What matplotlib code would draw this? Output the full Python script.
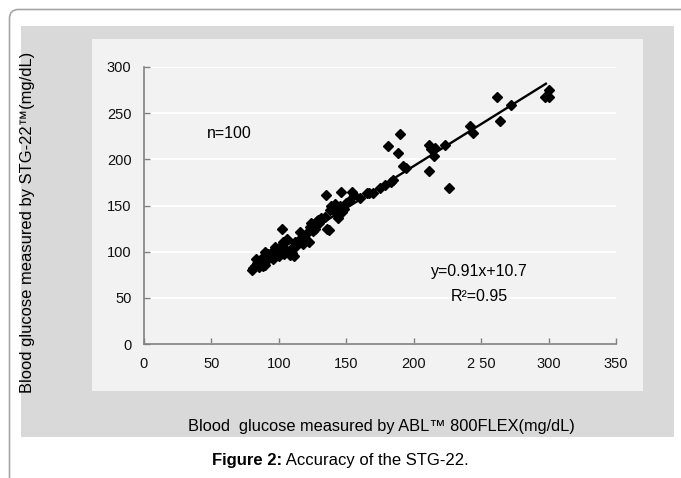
import matplotlib
matplotlib.use("Agg")
import matplotlib.pyplot as plt
from matplotlib.patches import Rectangle, FancyBboxPatch
from matplotlib.transforms import IdentityTransform
import numpy as np

plt.rcParams['font.family'] = ['Liberation Sans', 'DejaVu Sans']

# ---- data ----
abl_x = [80, 81, 82, 83, 84, 85, 86, 88, 89, 90, 90, 92, 93, 95, 96, 97, 98, 99, 100, 100,
         101, 102, 103, 104, 105, 106, 107, 108, 109, 110, 111, 112, 113, 114, 115, 116, 117, 118, 119, 120,
         121, 122, 123, 124, 125, 126, 127, 128, 129, 130, 131, 132, 134, 135, 136, 137, 138, 139, 140, 141,
         142, 143, 144, 144, 145, 146, 147, 148, 150, 152, 154, 156, 160, 165, 167, 170, 175, 179, 183, 185,
         181, 188, 190, 192, 194, 211, 213, 215, 211, 223, 226, 242, 244, 262, 264, 272, 297, 300, 300, 216]
stg_y = [80, 82, 85, 92, 88, 83, 90, 84, 95, 86, 100, 97, 93, 100, 92, 105, 98, 102, 95, 104,
         99, 125, 110, 97, 102, 114, 100, 96, 103, 99, 95, 110, 106, 112, 110, 121, 114, 108, 117, 113,
         120, 110, 127, 131, 122, 128, 125, 133, 134, 131, 136, 135, 138, 161, 125, 123, 145, 150, 148, 144,
         152, 146, 140, 137, 150, 165, 143, 146, 153, 155, 165, 161, 158, 163, 164, 163, 169, 172, 175, 178,
         214, 207, 227, 193, 191, 215, 211, 204, 187, 215, 169, 236, 228, 268, 241, 259, 268, 268, 275, 212]
fit_x = [80, 298]
slope = 0.91
intercept = 10.7
x_ticks = [0, 50, 100, 150, 200, 250, 300, 350]
x_tick_labels = ["0", "50", "100", "150", "200", "2 50", "300", "350"]
y_ticks = [0, 50, 100, 150, 200, 250, 300]

W, H = 681, 478
fig = plt.figure(figsize=(W / 100, H / 100), dpi=100)
fig.patch.set_facecolor("white")

# outer rounded frame (only top and left edges visible)
frame = FancyBboxPatch((9.5, -30), 760, H - 9.5 + 30,
                       boxstyle="round,pad=0,rounding_size=9",
                       transform=IdentityTransform(), facecolor="none",
                       edgecolor="#a6a6a6", linewidth=1.2, zorder=-10)
fig.patches.append(frame)

def px_rect(x0, y0, x1, y1, color):
    r = Rectangle((x0 / W, 1 - y1 / H), (x1 - x0) / W, (y1 - y0) / H,
                  transform=fig.transFigure, facecolor=color, edgecolor="none",
                  zorder=-10)
    fig.patches.append(r)

px_rect(21, 26, 674, 437, "#d9d9d9")
px_rect(92, 39, 643, 391, "#f2f2f2")

ax = fig.add_axes([144 / W, 1 - 344 / H, (616 - 144) / W, (344 - 67) / H])
ax.set_facecolor("none")
ax.set_xlim(0, 350)
ax.set_ylim(0, 300)
ax.set_xticks(x_ticks)
ax.set_xticklabels(x_tick_labels)
ax.set_yticks(y_ticks)
for s in ["top", "right"]:
    ax.spines[s].set_visible(False)
for s in ["left", "bottom"]:
    ax.spines[s].set_color("#808080")
    ax.spines[s].set_linewidth(1.2)
ax.tick_params(direction="in", length=4, width=1, color="#808080",
               labelsize=10.5, labelcolor="#111111", pad=9)
ax.yaxis.grid(True, color="white", linewidth=1.3)
ax.set_axisbelow(True)

ax.plot(abl_x, stg_y, linestyle="none", marker="D", markersize=5.6,
        color="black", zorder=3, clip_on=False)
fx = np.array(fit_x, dtype=float)
ax.plot(fx, slope * fx + intercept, color="black", linewidth=1.7, zorder=4)

ax.text(63, 228, "n=100", fontsize=11.5, ha="center", va="center")
ax.text(248.5, 78, "y=0.91x+10.7", fontsize=11.5, ha="center", va="center")
ax.text(248.5, 51, "R\u00b2=0.95", fontsize=11.5, ha="center", va="center")

fig.text(28 / W, 1 - 222 / H, "Blood glucose measured by STG-22\u2122(mg/dL)",
         rotation=90, ha="center", va="center", fontsize=11.9)
fig.text(381 / W, 1 - 427 / H, "Blood  glucose measured by ABL\u2122 800FLEX(mg/dL)",
         ha="center", va="center", fontsize=11.8)

# caption: bold part followed by normal part
renderer = fig.canvas.get_renderer()
t1 = fig.text(0, 1 - 461 / H, "Figure 2:", ha="left", va="center",
              fontsize=12, fontweight="bold")
t2 = fig.text(0, 1 - 461 / H, " Accuracy of the STG-22.", ha="left", va="center",
              fontsize=12)
w1 = t1.get_window_extent(renderer).width
w2 = t2.get_window_extent(renderer).width
start = 340 - (w1 + w2) / 2
t1.set_x(start / W)
t2.set_x((start + w1) / W)

fig.savefig("out.png", dpi=100, facecolor="white")
